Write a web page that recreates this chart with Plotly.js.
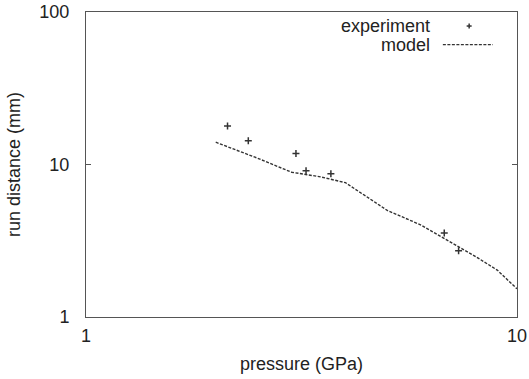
<!DOCTYPE html>
<html>
<head>
<meta charset="utf-8">
<script src="https://cdn.plot.ly/plotly-3.0.1.min.js"></script>
<style>html,body{margin:0;padding:0;background:#fff;}#chart{width:529px;height:379px;}</style>
</head>
<body>
<div id="chart"></div>
<script>
// Experiment data (pressure GPa, run distance mm)
const expPressure = [2.13, 2.38, 3.07, 3.24, 3.70, 6.78, 7.32];
const expRun = [17.9, 14.3, 11.8, 9.1, 8.7, 3.55, 2.72];
// Model curve
const modelPressure = [2.0, 2.5, 3.0, 3.5, 4.0, 5.0, 6.0, 7.0, 8.0, 9.0, 10.0];
const modelRun = [14.0, 11.0, 8.9, 8.3, 7.6, 5.0, 4.0, 3.1, 2.5, 2.03, 1.53];
// Tick labels
const xTickVals = [1, 10];
const xTickText = ['1', '10'];
const yTickVals = [1, 10, 100];
const yTickText = ['1', '10', '100'];
const xMinorVals = [2, 3, 4, 5, 6, 7, 8, 9];
const yMinorVals = [2, 3, 4, 5, 6, 7, 8, 9, 20, 30, 40, 50, 60, 70, 80, 90];
const seriesNames = ['experiment', 'model'];

const ink = '#333333';
const axisColor = '#555555';
const font = {family: 'Liberation Sans, Arial, sans-serif', size: 18, color: '#222'};

const traces = [
  {x: expPressure, y: expRun, mode: 'markers', type: 'scatter', name: seriesNames[0],
   marker: {symbol: 'cross-thin', size: 5, line: {width: 1.5, color: ink}, color: ink}, showlegend: false},
  {x: modelPressure, y: modelRun, mode: 'lines', type: 'scatter', name: seriesNames[1],
   line: {color: ink, width: 1.4, dash: '3px,1.5px'}, showlegend: false}
];

const axisCommon = {
  type: 'log', showgrid: false, zeroline: false, showline: true, mirror: 'allticks',
  linecolor: axisColor, linewidth: 1, ticks: 'inside', ticklen: 5, tickcolor: axisColor,
  tickfont: font, tickmode: 'array'
};
const minorCommon = {
  type: 'log', showgrid: false, zeroline: false, showline: false, mirror: 'allticks',
  ticks: 'inside', ticklen: 3, tickcolor: axisColor, tickmode: 'array', showticklabels: false
};

const legX = 0.802, legRow1 = 0.954, legRow2 = 0.893, symX = 0.889;
const layout = {
  width: 529, height: 379,
  margin: {l: 86, r: 12, t: 12, b: 62},
  paper_bgcolor: '#fff', plot_bgcolor: '#fff',
  font: font,
  showlegend: false,
  xaxis: Object.assign({}, axisCommon, {range: [0, 1], tickvals: xTickVals, ticktext: xTickText,
    ticklabelstandoff: 2,
    title: {text: 'pressure (GPa)', font: font, standoff: 12}}),
  yaxis: Object.assign({}, axisCommon, {range: [0, 2], tickvals: yTickVals, ticktext: yTickText,
    ticklabelstandoff: 12,
    title: {text: 'run distance (mm)', font: font, standoff: 14}}),
  xaxis2: Object.assign({}, minorCommon, {overlaying: 'x', side: 'bottom', anchor: 'y', range: [0, 1], tickvals: xMinorVals}),
  yaxis2: Object.assign({}, minorCommon, {overlaying: 'y', side: 'left', anchor: 'x', range: [0, 2], tickvals: yMinorVals}),
  annotations: [
    {xref: 'paper', yref: 'paper', x: legX, y: legRow1, xanchor: 'right', yanchor: 'middle',
     text: seriesNames[0], showarrow: false, font: font},
    {xref: 'paper', yref: 'paper', x: legX, y: legRow2, xanchor: 'right', yanchor: 'middle',
     text: seriesNames[1], showarrow: false, font: font}
  ],
  shapes: [
    {type: 'line', xref: 'paper', yref: 'paper', xsizemode: 'pixel', xanchor: symX, x0: -2.5, x1: 2.5,
     y0: legRow1, y1: legRow1, line: {color: ink, width: 1.5}},
    {type: 'line', xref: 'paper', yref: 'paper', ysizemode: 'pixel', yanchor: legRow1, y0: -2.5, y1: 2.5,
     x0: symX, x1: symX, line: {color: ink, width: 1.5}},
    {type: 'line', xref: 'paper', yref: 'paper', x0: 0.828, x1: 0.944, y0: legRow2, y1: legRow2,
     line: {color: ink, width: 1.4, dash: '3px,1.5px'}}
  ]
};

Plotly.newPlot('chart', traces, layout, {staticPlot: true, displayModeBar: false});
</script>
</body>
</html>
